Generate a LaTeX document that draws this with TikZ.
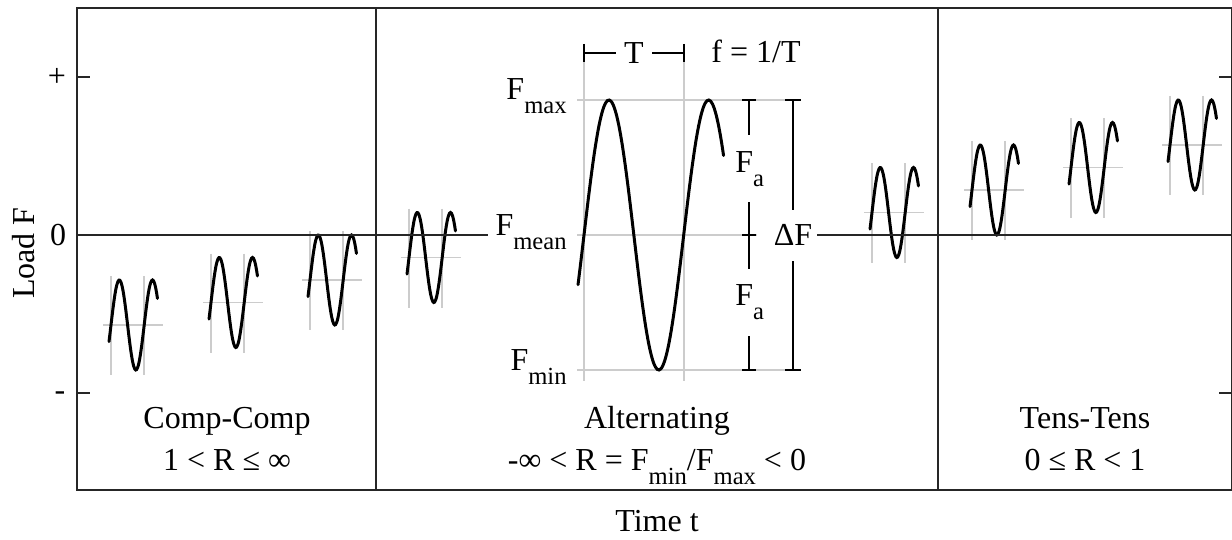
\documentclass[tikz,border=0pt]{standalone}
\usepackage{fontspec}
\setmainfont{Liberation Serif}
\newcommand{\Fsub}[1]{F\raisebox{-7pt}{\fontsize{12.3}{12}\selectfont #1}}
\tikzset{
  frameline/.style={line width=1pt, black!85},
  guide/.style={line width=0.9pt, black!20},
  wave/.style={line width=1.5pt, line cap=round},
  dimline/.style={line width=0.8pt},
  lab/.style={font=\fontsize{16}{18}\selectfont, inner sep=0pt},
}
\begin{document}
\begin{tikzpicture}[x=0.5pt, y=-0.5pt]
  \useasboundingbox (0,0) rectangle (1232,540);
  % frame, regions and axis ticks
  \draw[frameline] (77,8) rectangle (1232,490);
  \draw[frameline] (376,8) -- (376,490);
  \draw[frameline] (938,8) -- (938,490);
  \draw[frameline] (77,77) -- (90,77) (77,393) -- (90,393);
  \draw[frameline] (1219,77) -- (1232,77) (1219,393) -- (1232,393);
  \node[lab] (plus) at (57,77) {+};
  \node[lab] (zero) at (58,235) {0};
  \node[lab] (minus) at (60,396) {-};
  \node[lab, rotate=90] (loadF) at (24,253) {Load F};
  \node[lab, anchor=base] (timeT) at (657,531) {Time t};
  % small load cycles
  \foreach \xo/\ym in {111/325, 211/302.5, 310/280, 409/257.5, 872/212.5, 972/190, 1071/167.5, 1170/145} {
    \draw[guide] (\xo,\ym-49) -- (\xo,\ym+50);
    \draw[guide] (\xo+33.2,\ym-49) -- (\xo+33.2,\ym+50);
    \draw[guide] (\xo-8,\ym) -- (\xo+52,\ym);
    \draw[wave] plot[domain=-0.06:1.40, samples=50, smooth] ({\xo+33.2*\x}, {\ym-45*sin(360*\x)});
  }
  % large cycle with its guides
  \draw[guide] (584,53) -- (584,381) (683.7,53) -- (683.7,381);
  \draw[guide] (577,100) -- (800,100) (577,370) -- (800,370) (577,235) -- (757,235);
  \draw[wave] plot[domain=-0.06:1.40, samples=80, smooth] ({584+99.7*\x}, {235-135*sin(360*\x)});
  \node[lab, anchor=base east] (fmax) at (567,100) {\Fsub{max}};
  \node[lab, anchor=base east] (fmean) at (567,235) {\Fsub{mean}};
  \node[lab, anchor=base east] (fmin) at (567,370) {\Fsub{min}};
  % zero line
  \draw[frameline] (77,235) -- (488,235);
  \node[lab, anchor=base] (dF) at (793,245) {ΔF};
  \draw[frameline] (817,235) -- (1232,235);
  % period
  \node[lab, inner xsep=4pt] (Tlab) at (634,53) {T};
  \draw[dimline] (584,44) -- (584,62) (683.7,44) -- (683.7,62);
  \draw[dimline] (584,53) -- (Tlab.west) (Tlab.east) -- (683.7,53);
  \node[lab, anchor=base] (freq) at (756,63) {f = 1/T};
  % amplitude and range
  \node[lab, anchor=base west] (fa1) at (735,172) {\Fsub{a}};
  \node[lab, anchor=base west] (fa2) at (735,305) {\Fsub{a}};
  \draw[dimline] (749,100) -- (749,135) (749,202) -- (749,269) (749,336) -- (749,370);
  \draw[dimline] (742,100) -- (756,100) (742,235) -- (756,235) (742,370) -- (756,370);
  \draw[dimline] (793,100) -- (793,210) (793,261) -- (793,370);
  \draw[dimline] (785,100) -- (801,100) (785,370) -- (801,370);
  % region labels
  \node[lab, anchor=base] (compT) at (227,428) {Comp-Comp};
  \node[lab, anchor=base] (compR) at (227,470) {1 < R ≤ ∞};
  \node[lab, anchor=base] (altT) at (657,428) {Alternating};
  \node[lab, anchor=base] (altR) at (657,470) {-∞ < R = \Fsub{min}/\Fsub{max} < 0};
  \node[lab, anchor=base] (tensT) at (1085,428) {Tens-Tens};
  \node[lab, anchor=base] (tensR) at (1085,470) {0 ≤ R < 1};
\end{tikzpicture}
\end{document}
